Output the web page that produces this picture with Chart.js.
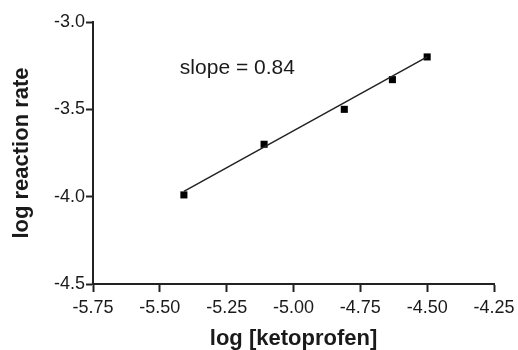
<!DOCTYPE html>
<html>
<head>
<meta charset="utf-8">
<script src="https://cdn.jsdelivr.net/npm/chart.js@4/dist/chart.umd.min.js"></script>
<style>
  body { margin: 0; background: #fff; }
  #chart { display: block; }
</style>
</head>
<body>
<canvas id="chart" width="518" height="350"></canvas>
<script>
// measured points
const logKetoprofen = [-5.41, -5.11, -4.81, -4.63, -4.50];
const logRate = [-3.99, -3.70, -3.50, -3.33, -3.20];

// fitted line ends
const fitX = [-5.41, -4.50];
const fitY = [-3.97, -3.20];

// axis ticks
const xTicks = [-5.75, -5.50, -5.25, -5.00, -4.75, -4.50, -4.25];
const yTicks = [-4.5, -4.0, -3.5, -3.0];

const slopeLabel = "slope = 0.84";
const slopePos = [-5.21, -3.265];

const FONT = "'Liberation Sans', Arial, sans-serif";

/* =========================
   SLOPE TEXT PLUGIN
========================= */
const slopeText = {
    id: "slopeText",
    afterDatasetsDraw(chart) {
        const ctx = chart.ctx;
        const x = chart.scales.x.getPixelForValue(slopePos[0]);
        const y = chart.scales.y.getPixelForValue(slopePos[1]);
        ctx.save();
        ctx.font = "21px " + FONT;
        ctx.fillStyle = "#1a1a1a";
        ctx.textAlign = "center";
        ctx.textBaseline = "middle";
        ctx.fillText(slopeLabel, x, y);
        ctx.restore();
    }
};

const points = logKetoprofen.map((v, i) => ({ x: v, y: logRate[i] }));
const line = fitX.map((v, i) => ({ x: v, y: fitY[i] }));

new Chart(document.getElementById("chart"), {
    type: "scatter",
    data: {
        datasets: [
            {
                data: line,
                showLine: true,
                borderColor: "#222",
                borderWidth: 1.5,
                pointRadius: 0
            },
            {
                data: points,
                pointStyle: "rect",
                pointRadius: 5,
                backgroundColor: "#000",
                borderColor: "#000",
                borderWidth: 0
            }
        ]
    },
    options: {
        responsive: false,
        animation: false,
        layout: { padding: { left: 0, right: 24, top: 22, bottom: 0 } },
        plugins: {
            legend: { display: false },
            tooltip: { enabled: false }
        },
        scales: {
            x: {
                type: "linear",
                min: -5.75,
                max: -4.25,
                afterBuildTicks: s => { s.ticks = xTicks.map(v => ({ value: v })); },
                afterFit: s => {
                    s.height = 66;
                    s.paddingRight = 0;
                    s.paddingLeft = 0;
                },
                ticks: {
                    color: "#1a1a1a",
                    font: { family: FONT, size: 18 },
                    padding: 5,
                    maxRotation: 0,
                    callback: v => v.toFixed(2)
                },
                grid: {
                    drawOnChartArea: false,
                    drawTicks: true,
                    tickLength: 8,
                    tickColor: "#222",
                    tickWidth: 2
                },
                border: { display: true, color: "#222", width: 2 },
                title: {
                    display: true,
                    text: "log [ketoprofen]",
                    color: "#1a1a1a",
                    font: { family: FONT, size: 22, weight: "bold" },
                    padding: { top: 0, bottom: -2 }
                }
            },
            y: {
                type: "linear",
                min: -4.5,
                max: -3.0,
                afterBuildTicks: s => { s.ticks = yTicks.map(v => ({ value: v })); },
                afterFit: s => { s.width = 93; },
                ticks: {
                    color: "#1a1a1a",
                    font: { family: FONT, size: 18 },
                    padding: 1,
                    callback: v => v.toFixed(1)
                },
                grid: {
                    drawOnChartArea: false,
                    drawTicks: true,
                    tickLength: 7,
                    tickColor: "#222",
                    tickWidth: 2
                },
                border: { display: true, color: "#222", width: 2 },
                title: {
                    display: true,
                    text: "log reaction rate",
                    color: "#1a1a1a",
                    font: { family: FONT, size: 22, weight: "bold" },
                    padding: { top: 9, bottom: 0 }
                }
            }
        }
    },
    plugins: [slopeText]
});
</script>
</body>
</html>
